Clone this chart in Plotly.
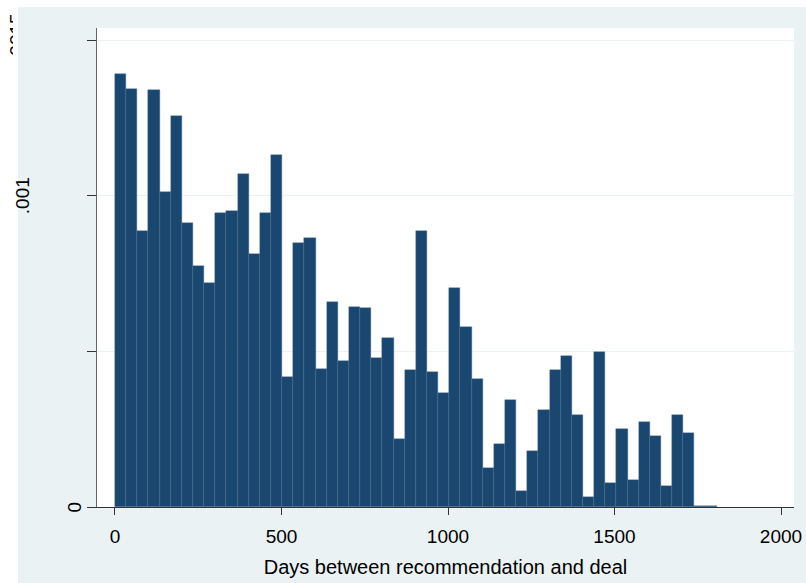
import plotly.graph_objects as go

# Histogram (density scale) of days between recommendation and deal
BIN_START = 0.0
BIN_WIDTH = 33.46
density = [
    0.001391, 0.001342, 0.000887, 0.001340, 0.001013, 0.001256, 0.000911, 0.000774,
    0.000721, 0.000943, 0.000951, 0.001071, 0.000812, 0.000943, 0.001132, 0.000419,
    0.000849, 0.000864, 0.000444, 0.000660, 0.000469, 0.000644, 0.000640, 0.000480,
    0.000543, 0.000218, 0.000441, 0.000887, 0.000435, 0.000365, 0.000705, 0.000577,
    0.000411, 0.000125, 0.000203, 0.000345, 0.000052, 0.000181, 0.000311, 0.000441,
    0.000484, 0.000295, 0.000031, 0.000497, 0.000078, 0.000251, 0.000088, 0.000272,
    0.000229, 0.000069, 0.000296, 0.000239, 0.000004, 0.000004,
]
x_ticks = [0, 500, 1000, 1500, 2000]
y_ticks = [0, 0.0005, 0.001, 0.0015]
y_tick_text = ["0", "", ".001", ".0015"]
x_title = "Days between recommendation and deal"

BAR_COLOR = "#1A476F"
BG_COLOR = "#EAF2F3"
FONT = "Arial, Liberation Sans, sans-serif"

centers = [BIN_START + BIN_WIDTH * (i + 0.5) for i in range(len(density))]

fig = go.Figure(
    go.Bar(
        x=centers,
        y=density,
        width=[BIN_WIDTH] * len(density),
        marker=dict(color=BAR_COLOR, line=dict(color="#4A6C8F", width=0.4)),
        hoverinfo="x+y",
    )
)

W, H = 806, 583
ML, MR, MT, MB = 97, 12, 28, 76
pw, ph = W - ML - MR, H - MT - MB


def px_x(p):
    return (p - ML) / pw


def px_y(p):
    return (H - MB - p) / ph


shapes = [
    # outer graph region
    dict(type="rect", xref="paper", yref="paper", layer="below",
         x0=px_x(18), x1=px_x(806), y0=px_y(583), y1=px_y(7),
         fillcolor=BG_COLOR, line=dict(width=0)),
    # inner plot region
    dict(type="rect", xref="paper", yref="paper", layer="below",
         x0=0, x1=1, y0=0, y1=1, fillcolor="white", line=dict(width=0)),
    # top label sits partly outside the graph region
    dict(type="rect", xref="paper", yref="paper", layer="above",
         x0=px_x(13), x1=px_x(18), y0=px_y(75), y1=px_y(0),
         fillcolor="white", line=dict(width=0)),
    dict(type="rect", xref="paper", yref="paper", layer="above",
         x0=px_x(18), x1=px_x(45), y0=px_y(75), y1=px_y(7),
         fillcolor=BG_COLOR, line=dict(width=0)),
]

annotations = []
label_x = {"0": 73.5, ".001": 22.5}
for v, t in zip(y_ticks, y_tick_text):
    if t in label_x:
        annotations.append(dict(
            x=px_x(label_x[t]), xref="paper", y=v, yref="y",
            text=t, textangle=-90, showarrow=False,
            xanchor="center", yanchor="middle",
            font=dict(family=FONT, size=19, color="black"),
        ))

fig.update_layout(
    width=W, height=H,
    margin=dict(l=ML, r=MR, t=MT, b=MB, pad=0, autoexpand=False),
    paper_bgcolor="white",
    plot_bgcolor="white",
    bargap=0,
    showlegend=False,
    shapes=shapes,
    annotations=annotations,
    font=dict(family=FONT, color="black"),
    xaxis=dict(
        range=[-54, 2039],
        tickvals=x_ticks,
        ticks="outside", ticklen=7, tickwidth=1, tickcolor="#333333",
        tickfont=dict(size=19, color="black"),
        ticklabelstandoff=5,
        showgrid=False, zeroline=False, automargin=False,
        showline=True, linecolor="#333333", linewidth=1,
        title=dict(text=x_title, font=dict(size=20, color="black"), standoff=14),
    ),
    yaxis=dict(
        range=[0, 0.0015 * ph / (ph - 12)],
        tickvals=y_ticks,
        ticktext=["", "", "", ".0015"],
        tickangle=-90,
        ticks="outside", ticklen=9, tickwidth=1, tickcolor="#333333",
        tickfont=dict(size=19, color="black"),
        ticklabelstandoff=56,
        showgrid=True, gridcolor=BG_COLOR, gridwidth=1.2,
        zeroline=False, automargin=False,
        showline=True, linecolor="#666666", linewidth=1,
    ),
)

fig.write_html("out.html")
